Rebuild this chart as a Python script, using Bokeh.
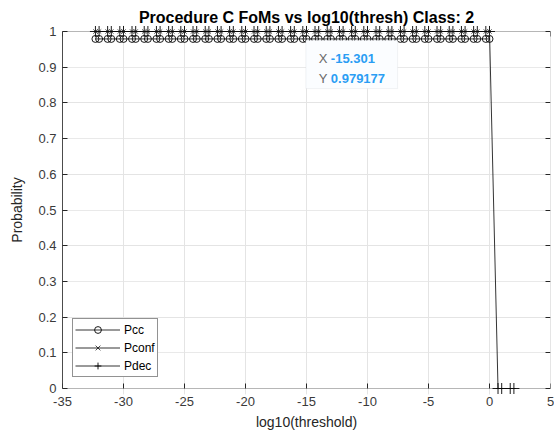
from bokeh.plotting import figure
from bokeh.models import (Range1d, LinearAxis, FixedTicker, Grid, BoxAnnotation,
                          Label, Legend, LegendItem, ColumnDataSource)
from bokeh.embed import file_html
from bokeh.resources import INLINE

nan = float("nan")

# log10 of the decision thresholds
thresh = [-32.301, -32.0, -31.301, -31.0, -30.301, -30.0, -29.301, -29.0,
          -28.301, -28.0, -27.301, -27.0, -26.301, -26.0, -25.301, -25.0,
          -24.301, -24.0, -23.301, -23.0, -22.301, -22.0, -21.301, -21.0,
          -20.301, -20.0, -19.301, -19.0, -18.301, -18.0, -17.301, -17.0,
          -16.301, -16.0, -15.301, -15.0, -14.301, -14.0, -13.301, -13.0,
          -12.301, -12.0, -11.301, -11.0, -10.301, -10.0, -9.301, -9.0,
          -8.301, -8.0, -7.301, -7.0, -6.301, -6.0, -5.301, -5.0,
          -4.301, -4.0, -3.301, -3.0, -2.301, -2.0, -1.301, -1.0,
          -0.301, 0.0, 0.699, 1.0, 1.699, 2.0]

pcc = [0.979177, 0.979177, 0.979177, 0.979177, 0.979177, 0.979177, 0.979177, 0.979177,
       0.979177, 0.979177, 0.979177, 0.979177, 0.979177, 0.979177, 0.979177, 0.979177,
       0.979177, 0.979177, 0.979177, 0.979177, 0.979177, 0.979177, 0.979177, 0.979177,
       0.979177, 0.979177, 0.979177, 0.979177, 0.979177, 0.979177, 0.979177, 0.979177,
       0.979177, 0.979177, 0.979177, 0.979177, 0.979177, 0.979177, 0.979177, 0.979177,
       0.979177, 0.979177, 0.979177, 0.979177, 0.979177, 0.979177, 0.979177, 0.979177,
       0.979177, 0.979177, 0.979177, 0.979177, 0.979177, 0.979177, 0.979177, 0.979177,
       0.979177, 0.979177, 0.979177, 0.979177, 0.979177, 0.979177, 0.979177, 0.979177,
       0.979177, 0.979177, nan, nan, nan, nan]

pconf = [1, 1, 1, 1, 1, 1, 1, 1, 1, 1, 1, 1, 1, 1, 1, 1,
         1, 1, 1, 1, 1, 1, 1, 1, 1, 1, 1, 1, 1, 1, 1, 1,
         1, 1, 1, 1, 1, 1, 1, 1, 1, 1, 1, 1, 1, 1, 1, 1,
         1, 1, 1, 1, 1, 1, 1, 1, 1, 1, 1, 1, 1, 1, 1, 1,
         1, 1, nan, nan, nan, nan]

pdec = [1, 1, 1, 1, 1, 1, 1, 1, 1, 1, 1, 1, 1, 1, 1, 1,
        1, 1, 1, 1, 1, 1, 1, 1, 1, 1, 1, 1, 1, 1, 1, 1,
        1, 1, 1, 1, 1, 1, 1, 1, 1, 1, 1, 1, 1, 1, 1, 1,
        1, 1, 1, 1, 1, 1, 1, 1, 1, 1, 1, 1, 1, 1, 1, 1,
        1, 1, 0, 0, 0, 0]

x_ticks = [-35, -30, -25, -20, -15, -10, -5, 0, 5]
x_tick_labels = ["-35", "-30", "-25", "-20", "-15", "-10", "-5", "0", "5"]
y_ticks = [0, 0.1, 0.2, 0.3, 0.4, 0.5, 0.6, 0.7, 0.8, 0.9, 1]
y_tick_labels = ["0", "0.1", "0.2", "0.3", "0.4", "0.5", "0.6", "0.7", "0.8", "0.9", "1"]

# datatip shown on the Pcc curve
tip_x = -15.301
tip_y = 0.979177

FONT = "Liberation Sans"
AXC = "#262626"
PAD = 6 / 357.0  # a few pixels of headroom so markers on the box edge stay whole

src = ColumnDataSource(dict(t=thresh, pcc=pcc, pconf=pconf, pdec=pdec))

p = figure(width=554, height=432, output_backend="svg", toolbar_location=None,
           x_range=Range1d(-35, 5), y_range=Range1d(-PAD, 1 + PAD),
           x_axis_location=None, y_axis_location=None,
           min_border_left=62, min_border_right=4, min_border_top=25, min_border_bottom=38)
p.outline_line_color = None
p.background_fill_color = "white"
p.border_fill_color = "white"

p.title.text = "Procedure C FoMs vs log10(thresh) Class: 2"
p.title.text_font = FONT
p.title.text_font_size = "16px"
p.title.text_font_style = "bold"
p.title.text_color = "black"
p.title.align = "center"
p.title.standoff = 0
p.title.offset = 0

xt = FixedTicker(ticks=x_ticks)
yt = FixedTicker(ticks=y_ticks)


def style_axis(ax):
    ax.axis_line_color = AXC
    ax.axis_line_width = 0.8
    ax.major_tick_line_color = AXC
    ax.major_tick_in = 5
    ax.major_tick_out = 0
    ax.minor_tick_line_color = None
    ax.major_label_text_font = FONT
    ax.major_label_text_font_size = "13px"
    ax.major_label_text_color = "#3a3a3a"
    ax.axis_label_text_font = FONT
    ax.axis_label_text_font_size = "14px"
    ax.axis_label_text_font_style = "normal"
    ax.axis_label_text_color = "#262626"


# bottom axis: labels only, placed below the box
xaxis = LinearAxis(ticker=xt, bounds=(-35, 5), axis_label="log10(threshold)",
                   major_label_overrides=dict(zip(x_ticks, x_tick_labels)))
style_axis(xaxis)
xaxis.axis_line_color = None
xaxis.major_tick_line_color = None
xaxis.major_label_standoff = 2
xaxis.axis_label_standoff = 5
p.add_layout(xaxis, "below")

yaxis = LinearAxis(ticker=yt, bounds=(0, 1), axis_label="Probability",
                   major_label_overrides=dict(zip(y_ticks, y_tick_labels)))
style_axis(yaxis)
yaxis.major_label_standoff = 6
yaxis.axis_label_standoff = 10
p.add_layout(yaxis, "left")

# inward tick marks on the bottom, top and right edges of the box
blank_x = dict(zip(x_ticks, ["" for _ in x_ticks]))
blank_y = dict(zip(y_ticks, ["" for _ in y_ticks]))
for loc, side, tk, blank, bnd in [(0, "below", xt, blank_x, (-35, 5)),
                                  (1, "above", xt, blank_x, (-35, 5)),
                                  (5, "right", yt, blank_y, (0, 1))]:
    ax = LinearAxis(ticker=tk, fixed_location=loc, bounds=bnd,
                    major_label_overrides=blank)
    style_axis(ax)
    ax.axis_line_color = None
    ax.major_label_standoff = 0
    p.add_layout(ax, side)

p.add_layout(Grid(dimension=0, ticker=xt, bounds=(0, 1),
                  grid_line_color="#e3e3e3", grid_line_width=0.8))
p.add_layout(Grid(dimension=1, ticker=yt, bounds=(-35, 5),
                  grid_line_color="#e3e3e3", grid_line_width=0.8))

p.add_layout(BoxAnnotation(left=-35, right=5, bottom=0, top=1, fill_color=None,
                           line_color=AXC, line_width=0.8))

# the three figures of merit
l_pcc = p.line("t", "pcc", source=src, line_color="black", line_width=0.8)
m_pcc = p.scatter("t", "pcc", source=src, marker="circle", size=7,
                  fill_color=None, line_color="black", line_width=0.9)
l_pconf = p.line("t", "pconf", source=src, line_color="black", line_width=0.8)
m_pconf = p.scatter("t", "pconf", source=src, marker="x", size=6,
                    line_color="black", line_width=0.7)
l_pdec = p.line("t", "pdec", source=src, line_color="black", line_width=0.8)
m_pdec = p.scatter("t", "pdec", source=src, marker="cross", size=11,
                   line_color="black", line_width=0.9)

legend = Legend(items=[LegendItem(label="Pcc", renderers=[l_pcc, m_pcc]),
                       LegendItem(label="Pconf", renderers=[l_pconf, m_pconf]),
                       LegendItem(label="Pdec", renderers=[l_pdec, m_pdec])],
                location=(10, 17), orientation="vertical",
                border_line_color=AXC, border_line_width=0.8,
                background_fill_color="white", background_fill_alpha=1,
                label_text_font=FONT, label_text_font_size="12px",
                label_text_color="black",
                glyph_width=45, glyph_height=17, label_height=17,
                label_standoff=4, padding=2, spacing=1, margin=0)
p.add_layout(legend)

# datatip box
p.add_layout(BoxAnnotation(left=-15.05, right=-7.53, bottom=0.840, top=0.975,
                           fill_color="#fbfdff", fill_alpha=1,
                           line_color="#cfd4da", line_width=1))
p.add_layout(Label(x=tip_x, y=0.924, x_offset=16, text="X", text_font=FONT,
                   text_font_size="13px", text_color="#6a6a6a",
                   text_baseline="middle"))
p.add_layout(Label(x=tip_x, y=0.868, x_offset=16, text="Y", text_font=FONT,
                   text_font_size="13px", text_color="#6a6a6a",
                   text_baseline="middle"))
p.add_layout(Label(x=tip_x, y=0.924, x_offset=28, text=f"{tip_x:g}",
                   text_font=FONT, text_font_size="13px", text_font_style="bold",
                   text_color="#2a9df4", text_baseline="middle"))
p.add_layout(Label(x=tip_x, y=0.868, x_offset=28, text=f"{tip_y:g}",
                   text_font=FONT, text_font_size="13px", text_font_style="bold",
                   text_color="#2a9df4", text_baseline="middle"))

open("out.html", "w").write(file_html(p, INLINE))
